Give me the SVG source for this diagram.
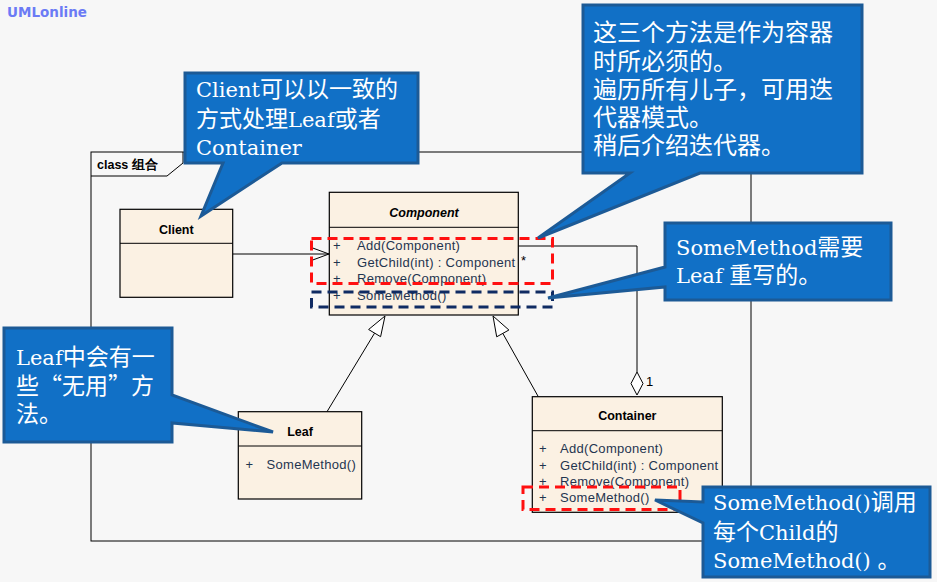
<svg xmlns="http://www.w3.org/2000/svg" width="937" height="582" viewBox="0 0 937 582">
<style>
.cls{fill:#fbf1e3;stroke:#000;stroke-width:1.2}
.ln{fill:none;stroke:#000;stroke-width:1}
.nm{font-family:"Liberation Sans",Arial,sans-serif;font-size:12.5px;font-weight:bold;fill:#000;text-anchor:middle}
.op{font-family:"Liberation Sans",Arial,sans-serif;font-size:13px;letter-spacing:0.3px;fill:#1f3550}
.co{fill:#1170c6;stroke:#1c5a96;stroke-width:3;stroke-linejoin:miter}
.ct{font-family:"DejaVu Serif","Noto Sans CJK SC",serif;font-size:21px;fill:#fff}
.zh{font-family:"Noto Sans CJK SC",sans-serif;font-size:23px}
.zh2{font-family:"Noto Sans CJK SC",sans-serif;font-size:24px;fill:#fff}
.red{fill:none;stroke:#ff1010;stroke-width:3;stroke-dasharray:10 6}
.navy{fill:none;stroke:#0f2b63;stroke-width:3;stroke-dasharray:10 6}
</style>
<rect width="937" height="582" fill="#f7f7f7"/>
<text x="7" y="17" font-family="DejaVu Sans,sans-serif" font-weight="bold" font-size="13.5" fill="#6b7bf5">UMLonline</text>

<g id="frame">
<rect x="91" y="152" width="660" height="389" class="ln"/>
<path d="M91,176 H167 L183,163 V152" class="ln"/>
<text x="97" y="169" font-family="Liberation Sans,Arial,sans-serif" font-weight="bold" font-size="12.5">class 组合</text>
</g>

<g id="connectors">
<path d="M232.7,254 H329" class="ln"/>
<path d="M310,247 L329,254 L310,261" class="ln"/>
<path d="M518,246 H637 V372" class="ln"/>
<path d="M637,372 L643,383.5 L637,395 L631,383.5 Z" fill="#fff" stroke="#000" stroke-width="1"/>
<text x="646" y="386" font-family="Liberation Sans,Arial,sans-serif" font-size="13">1</text>
<text x="521" y="265" font-family="Liberation Sans,Arial,sans-serif" font-size="13">*</text>
<path d="M327,411.7 L374.6,333.1" class="ln"/>
<path d="M385,316 L380.6,336.7 L368.6,329.5 Z" fill="#fff" stroke="#000" stroke-width="1"/>
<path d="M538.3,396.7 L502.8,333.4" class="ln"/>
<path d="M493,316 L508.9,330 L496.7,336.8 Z" fill="#fff" stroke="#000" stroke-width="1"/>
</g>

<g id="client">
<rect x="120" y="209.3" width="112.7" height="88" class="cls"/>
<path d="M120,243.3 H232.7" class="ln"/>
<text x="176.3" y="234" class="nm">Client</text>
</g>

<g id="component">
<rect x="329.3" y="192.3" width="189" height="122.7" class="cls"/>
<path d="M329.3,227.3 H518.3" class="ln"/>
<text x="424" y="217" class="nm" font-style="italic">Component</text>
<text x="333" y="250" class="op">+</text><text x="357" y="250" class="op">Add(Component)</text>
<text x="333" y="266.5" class="op">+</text><text x="357" y="266.5" class="op">GetChild(int) : Component</text>
<text x="333" y="283" class="op">+</text><text x="357" y="283" class="op">Remove(Component)</text>
<text x="333" y="299.5" class="op">+</text><text x="357" y="299.5" class="op">SomeMethod()</text>
</g>

<g id="leaf">
<rect x="238.3" y="411.7" width="123.4" height="87.3" class="cls"/>
<path d="M238.3,446 H361.7" class="ln"/>
<text x="300" y="435.7" class="nm">Leaf</text>
<text x="245.5" y="469" class="op">+</text><text x="266.5" y="469" class="op">SomeMethod()</text>
</g>

<g id="container">
<rect x="532.3" y="396.7" width="190" height="115.6" class="cls"/>
<path d="M532.3,430.7 H722.3" class="ln"/>
<text x="627.3" y="420" class="nm">Container</text>
<text x="539" y="453.3" class="op">+</text><text x="560" y="453.3" class="op">Add(Component)</text>
<text x="539" y="469.5" class="op">+</text><text x="560" y="469.5" class="op">GetChild(int) : Component</text>
<text x="539" y="486" class="op">+</text><text x="560" y="486" class="op">Remove(Component)</text>
<text x="539" y="502" class="op">+</text><text x="560" y="502" class="op">SomeMethod()</text>
</g>

<g id="highlights">
<rect x="311.5" y="238.5" width="241" height="45" class="red"/>
<rect x="311.5" y="292" width="241" height="15" class="navy"/>
<rect x="523" y="487" width="157" height="22.5" class="red"/>
</g>

<g id="note-client">
<path d="M185,73 H418 V163 H282 L201,216 L223,163 H185 Z" class="co"/>
<text class="ct"><tspan x="196" y="97">Client<tspan class="zh">可以以一致的</tspan></tspan><tspan x="196" y="126.5"><tspan class="zh">方式处理</tspan>Leaf<tspan class="zh">或者</tspan></tspan><tspan x="196" y="154.5">Container</tspan></text>
</g>

<g id="note-container-methods">
<path d="M583,5 H862 V173 H700 L538,238 L630,173 H583 Z" class="co"/>
<text class="zh2"><tspan x="593" y="41">这三个方法是作为容器</tspan><tspan x="593" y="69.5">时所必须的。</tspan><tspan x="593" y="98">遍历所有儿子，可用迭</tspan><tspan x="593" y="126">代器模式。</tspan><tspan x="593" y="154">稍后介绍迭代器。</tspan></text>
</g>

<g id="note-somemethod">
<path d="M665,223 H891 V300 H665 V287 L548,298 L665,267 Z" class="co"/>
<text class="ct"><tspan x="676" y="255">SomeMethod<tspan class="zh">需要</tspan></tspan><tspan x="676" y="283">Leaf <tspan class="zh">重写的。</tspan></tspan></text>
</g>

<g id="note-leaf">
<path d="M4,328 H172 V395 L273,432 L172,423 V442 H4 Z" class="co"/>
<text class="ct"><tspan x="16" y="365">Leaf<tspan class="zh">中会有一</tspan></tspan><tspan x="16" y="394" class="zh">些“无用”方</tspan><tspan x="16" y="422" class="zh">法。</tspan></text>
</g>

<g id="note-container">
<path d="M703,487 H930 V577 H703 V523 L655,500 L703,502 Z" class="co"/>
<text class="ct"><tspan x="713" y="510">SomeMethod()<tspan class="zh">调用</tspan></tspan><tspan x="713" y="540"><tspan class="zh">每个</tspan>Child<tspan class="zh">的</tspan></tspan><tspan x="713" y="568">SomeMethod() <tspan class="zh">。</tspan></tspan></text>
</g>
</svg>
